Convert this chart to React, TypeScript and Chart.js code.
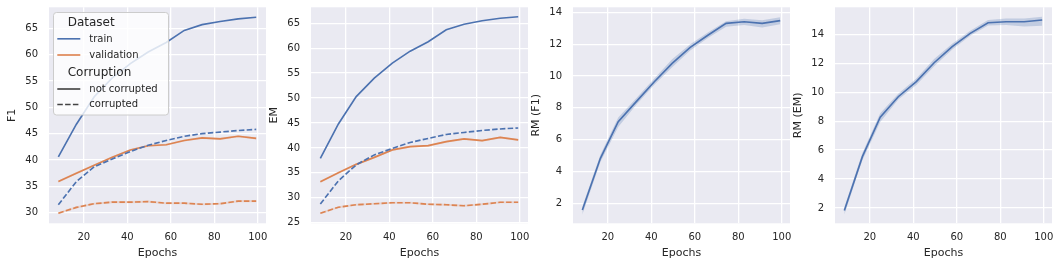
import React, { useEffect, useRef } from 'react';
import { Chart, registerables } from 'chart.js';

Chart.register(...registerables);

// ---------- data ----------
const epochs = [8.3, 16.6, 24.8, 33.1, 41.4, 49.6, 57.9, 66.2, 74.4, 82.7, 91.0, 99.3];

// F1 panel
const f1TrainClean = [40.6, 46.8, 52.0, 55.6, 58.3, 60.5, 62.3, 64.6, 65.7, 66.3, 66.8, 67.1];
const f1TrainCorrupt = [31.5, 35.9, 38.7, 40.2, 41.6, 42.8, 43.7, 44.5, 45.0, 45.3, 45.6, 45.8];
const f1ValClean = [35.9, 37.5, 39.0, 40.5, 41.9, 42.7, 42.9, 43.7, 44.2, 44.0, 44.5, 44.1];
const f1ValCorrupt = [29.9, 31.0, 31.7, 32.0, 32.0, 32.1, 31.8, 31.8, 31.6, 31.7, 32.2, 32.2];

// EM panel
const emTrainClean = [37.9, 44.8, 50.3, 54.0, 57.0, 59.4, 61.3, 63.7, 64.8, 65.5, 66.0, 66.3];
const emTrainCorrupt = [28.75, 33.4, 36.6, 38.6, 39.9, 41.1, 41.9, 42.7, 43.1, 43.5, 43.8, 44.0];
const emValClean = [33.2, 35.0, 36.7, 38.1, 39.6, 40.25, 40.45, 41.25, 41.8, 41.45, 42.1, 41.6];
const emValCorrupt = [26.9, 28.1, 28.6, 28.8, 29.0, 29.0, 28.7, 28.6, 28.4, 28.7, 29.1, 29.1];

// RM (F1) panel
const rmF1 = [1.58, 4.83, 7.13, 8.39, 9.64, 10.8, 11.8, 12.58, 13.31, 13.41, 13.31, 13.48];
const rmF1Low = [1.3, 4.6, 6.8, 8.2, 9.45, 10.55, 11.6, 12.4, 13.1, 13.2, 13.05, 13.25];
const rmF1High = [1.8, 5.05, 7.4, 8.6, 9.85, 11.05, 12.0, 12.75, 13.45, 13.6, 13.5, 13.7];

// RM (EM) panel
const rmEM = [1.82, 5.55, 8.27, 9.69, 10.73, 12.04, 13.15, 14.07, 14.8, 14.87, 14.87, 14.99];
const rmEMLow = [1.55, 5.3, 7.95, 9.5, 10.5, 11.8, 12.95, 13.9, 14.62, 14.65, 14.55, 14.6];
const rmEMHigh = [2.05, 5.8, 8.55, 9.9, 10.95, 12.3, 13.35, 14.25, 15.0, 15.1, 15.1, 15.22];

const xTicks = [20, 40, 60, 80, 100];
const f1Ticks = [30, 35, 40, 45, 50, 55, 60, 65];
const emTicks = [25, 30, 35, 40, 45, 50, 55, 60, 65];
const rmTicks = [2, 4, 6, 8, 10, 12, 14];

const legendDataset = ['train', 'validation'];
const legendCorruption = ['not corrupted', 'corrupted'];

// ---------- style ----------
const BLUE = '#4C72B0';
const ORANGE = '#DD8452';
const FONT = "'DejaVu Sans', sans-serif";
const TEXT = '#262626';
const DASH = [5.5, 2.3];
const LW = 1.65;

const PANEL_W = 217;
const LEFT_SPACE = 49;
const RIGHT_SPACE = 9;
const TOP = 7.3;
const X_AXIS_H = 44.7;
const H = 268;
const X_MIN = 4.0;
const X_MAX = 103.8;

type Line = { data: number[]; color: string; dash?: number[]; band?: number };
type Panel = {
  left: number;
  yTitle: string;
  yMin: number;
  yMax: number;
  yTicks: number[];
  lines: Line[];
  low?: number[];
  high?: number[];
  legend?: boolean;
};

const panels: Panel[] = [
  {
    left: 49, yTitle: 'F1', yMin: 27.98, yMax: 68.99, yTicks: f1Ticks, legend: true,
    lines: [
      { data: f1TrainClean, color: BLUE },
      { data: f1TrainCorrupt, color: BLUE, dash: DASH },
      { data: f1ValClean, color: ORANGE, band: 0.2 },
      { data: f1ValCorrupt, color: ORANGE, dash: DASH, band: 0.2 },
    ],
  },
  {
    left: 311, yTitle: 'EM', yMin: 24.88, yMax: 68.2, yTicks: emTicks,
    lines: [
      { data: emTrainClean, color: BLUE },
      { data: emTrainCorrupt, color: BLUE, dash: DASH },
      { data: emValClean, color: ORANGE, band: 0.2 },
      { data: emValCorrupt, color: ORANGE, dash: DASH, band: 0.2 },
    ],
  },
  {
    left: 573, yTitle: 'RM (F1)', yMin: 0.745, yMax: 14.32, yTicks: rmTicks,
    lines: [{ data: rmF1, color: BLUE }], low: rmF1Low, high: rmF1High,
  },
  {
    left: 835, yTitle: 'RM (EM)', yMin: 0.943, yMax: 15.87, yTicks: rmTicks,
    lines: [{ data: rmEM, color: BLUE }], low: rmEMLow, high: rmEMHigh,
  },
];

const pts = (arr: number[]) => epochs.map((x, i) => ({ x, y: arr[i] }));

function alpha(hex: string, a: number) {
  const r = parseInt(hex.slice(1, 3), 16);
  const g = parseInt(hex.slice(3, 5), 16);
  const b = parseInt(hex.slice(5, 7), 16);
  return `rgba(${r},${g},${b},${a})`;
}

const bgPlugin = {
  id: 'axesBg',
  beforeDraw(chart: any) {
    const { ctx, chartArea } = chart;
    ctx.save();
    ctx.fillStyle = '#EAEAF2';
    ctx.fillRect(chartArea.left, chartArea.top, chartArea.right - chartArea.left, chartArea.bottom - chartArea.top);
    ctx.restore();
  },
};

const legendPlugin = {
  id: 'seabornLegend',
  afterDraw(chart: any) {
    const ctx: CanvasRenderingContext2D = chart.ctx;
    ctx.save();
    const bx = 53.5, by = 12.5, bw = 115, bh = 102.5;
    ctx.beginPath();
    (ctx as any).roundRect(bx, by, bw, bh, 3);
    ctx.fillStyle = 'rgba(255,255,255,0.8)';
    ctx.fill();
    ctx.strokeStyle = '#CCCCCC';
    ctx.lineWidth = 1;
    ctx.stroke();

    ctx.textBaseline = 'middle';
    ctx.textAlign = 'left';
    ctx.fillStyle = TEXT;
    const handle = (y: number, color: string, dash: number[]) => {
      ctx.beginPath();
      ctx.setLineDash(dash);
      ctx.strokeStyle = color;
      ctx.lineWidth = LW;
      ctx.moveTo(57.3, y);
      ctx.lineTo(80.3, y);
      ctx.stroke();
      ctx.setLineDash([]);
    };
    ctx.font = `12px ${FONT}`;
    ctx.fillText('Dataset', 67.7, 22.5);
    ctx.fillText('Corruption', 67.7, 72.5);
    ctx.font = `10px ${FONT}`;
    handle(38.8, BLUE, []);
    handle(55, ORANGE, []);
    handle(89, '#444444', []);
    handle(104.5, '#444444', DASH);
    ctx.fillStyle = TEXT;
    ctx.fillText(legendDataset[0], 89.3, 39.6);
    ctx.fillText(legendDataset[1], 89.3, 55.6);
    ctx.fillText(legendCorruption[0], 89.3, 89.3);
    ctx.fillText(legendCorruption[1], 89.3, 104.9);
    ctx.restore();
  },
};

function buildDatasets(p: Panel) {
  const ds: any[] = [];
  p.lines.forEach((l) => {
    ds.push({
      data: pts(l.data),
      borderColor: l.color,
      borderWidth: LW,
      borderDash: l.dash || [],
      borderCapStyle: 'butt',
      pointRadius: 0,
      tension: 0,
      fill: false,
    });
  });
  const bandColor = alpha(BLUE, 0.25);
  if (p.low && p.high) {
    ds.push({ data: pts(p.high), borderWidth: 0, pointRadius: 0, fill: '+1', backgroundColor: bandColor, borderColor: 'rgba(0,0,0,0)' });
    ds.push({ data: pts(p.low), borderWidth: 0, pointRadius: 0, fill: false, borderColor: 'rgba(0,0,0,0)' });
  }
  p.lines.forEach((l) => {
    if (!l.band) return;
    const b = l.band;
    ds.push({ data: pts(l.data.map((v) => v + b)), borderWidth: 0, pointRadius: 0, fill: '+1', backgroundColor: alpha(l.color, 0.2), borderColor: 'rgba(0,0,0,0)' });
    ds.push({ data: pts(l.data.map((v) => v - b)), borderWidth: 0, pointRadius: 0, fill: false, borderColor: 'rgba(0,0,0,0)' });
  });
  return ds;
}

function PanelChart({ p }: { p: Panel }) {
  const ref = useRef<HTMLCanvasElement>(null);
  useEffect(() => {
    if (!ref.current) return;
    const chart = new Chart(ref.current, {
      type: 'line',
      data: { datasets: buildDatasets(p) },
      plugins: p.legend ? [bgPlugin, legendPlugin] : [bgPlugin],
      options: {
        responsive: false,
        animation: false,
        events: [],
        layout: { padding: { left: 0, top: TOP, right: RIGHT_SPACE, bottom: 0 } },
        plugins: { legend: { display: false }, tooltip: { enabled: false }, title: { display: false } },
        scales: {
          x: {
            type: 'linear',
            min: X_MIN,
            max: X_MAX,
            afterBuildTicks: (s: any) => { s.ticks = xTicks.map((v) => ({ value: v })); },
            afterFit: (s: any) => { s.height = X_AXIS_H; s.paddingLeft = 0; s.paddingRight = 0; s.paddingTop = 0; s.paddingBottom = 0; },
            grid: { color: '#FFFFFF', lineWidth: 1.3, drawTicks: false },
            border: { display: false },
            ticks: { color: TEXT, font: { family: FONT, size: 10 }, padding: 8.5, maxRotation: 0, autoSkip: false },
            title: { display: true, text: 'Epochs', color: TEXT, font: { family: FONT, size: 11 }, padding: { top: 0, bottom: 8.2 } },
          },
          y: {
            type: 'linear',
            min: p.yMin,
            max: p.yMax,
            afterBuildTicks: (s: any) => { s.ticks = p.yTicks.map((v) => ({ value: v })); },
            afterFit: (s: any) => { s.width = LEFT_SPACE; s.paddingTop = 0; s.paddingBottom = 0; s.paddingLeft = 0; s.paddingRight = 0; },
            grid: { color: '#FFFFFF', lineWidth: 1.3, drawTicks: false },
            border: { display: false },
            ticks: { color: TEXT, font: { family: FONT, size: 10 }, padding: 11, autoSkip: false },
            title: { display: true, text: p.yTitle, color: TEXT, font: { family: FONT, size: 11 }, padding: { top: 5.3, bottom: 0 } },
          },
        },
      } as any,
    });
    return () => chart.destroy();
  }, [p]);
  const w = LEFT_SPACE + PANEL_W + RIGHT_SPACE;
  return (
    <div style={{ position: 'absolute', left: p.left - LEFT_SPACE, top: 0, width: w, height: H }}>
      <canvas ref={ref} width={w} height={H} style={{ width: w, height: H, display: 'block' }} />
    </div>
  );
}

export default function App() {
  return (
    <div style={{ position: 'absolute', left: 0, top: 0, width: 1061, height: H, overflow: 'hidden', background: '#FFFFFF' }}>
      {panels.map((p, i) => (
        <PanelChart key={i} p={p} />
      ))}
    </div>
  );
}
